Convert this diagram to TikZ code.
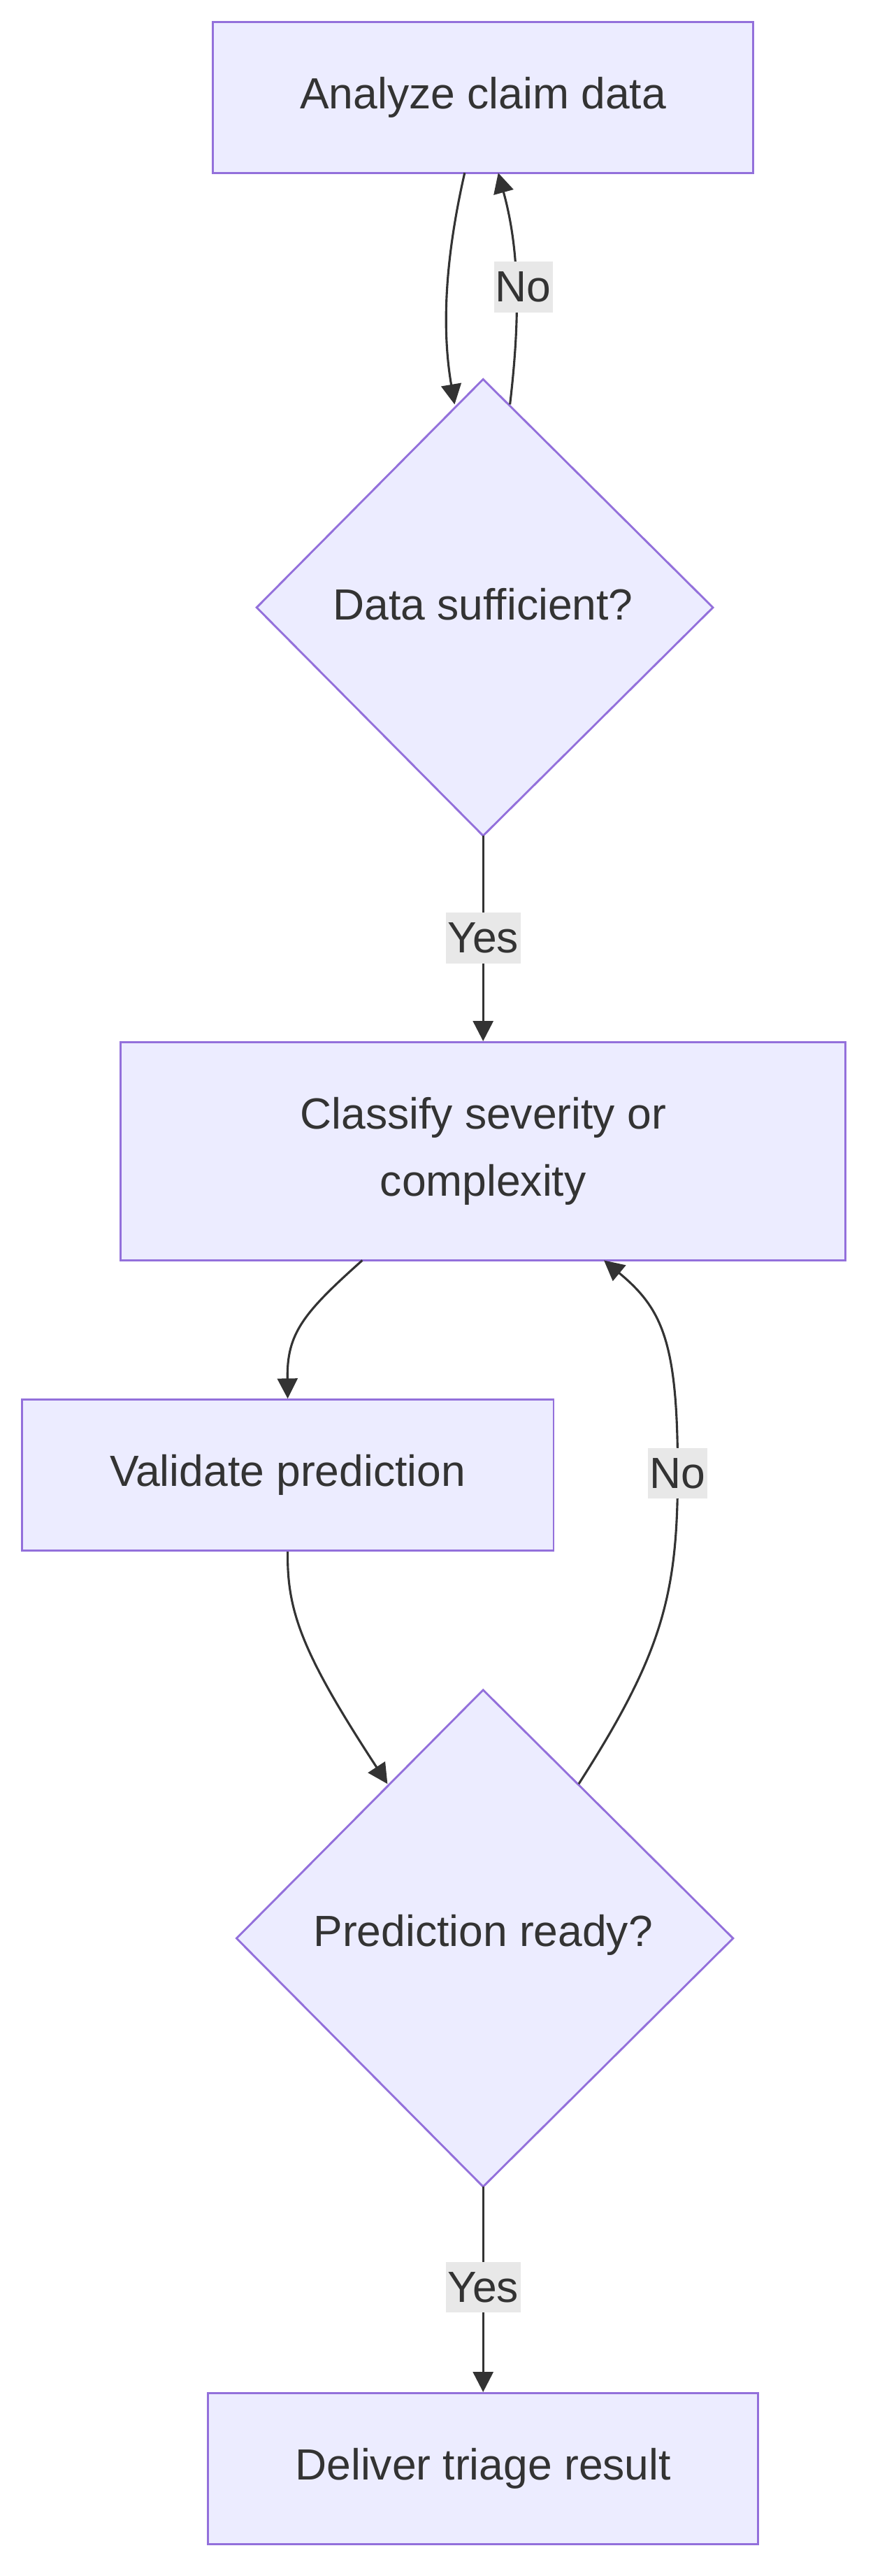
\documentclass[tikz,border=0pt]{standalone}
\usepackage{fontspec}
\setmainfont{Liberation Sans}
\usetikzlibrary{arrows.meta}
\definecolor{nfill}{HTML}{ECECFF}
\definecolor{nline}{HTML}{9370DB}
\definecolor{txt}{HTML}{333333}
\definecolor{lbg}{HTML}{E8E8E8}
\begin{document}
\begin{tikzpicture}[x=1pt,y=-1pt,
  box/.style={draw=nline,fill=nfill,line width=1.2pt,text=txt,font=\fontsize{26}{40}\selectfont,align=center,inner sep=0pt},
  lbl/.style={fill=lbg,text=txt,font=\fontsize{26}{30}\selectfont,inner xsep=1pt,inner ysep=6pt},
  edge/.style={draw=txt,line width=1.3pt,-{Triangle[length=12pt,width=12pt]}}]
\useasboundingbox (0,0) rectangle (520,1535);
\node[box,minimum width=322pt,minimum height=90pt] (a) at (288,58) {Analyze claim data};
\draw[box] (288,226) -- (425,362) -- (288,498) -- (153,362) -- cycle;
\node[text=txt,font=\fontsize{26}{30}\selectfont] (d1) at (288,360) {Data sufficient?};
\node[box,minimum width=432pt,minimum height=130pt] (b) at (288,686) {Classify severity or\\complexity};
\node[box,minimum width=317pt,minimum height=90pt] (c) at (171.5,879) {Validate prediction};
\draw[box] (288,1007) -- (437,1155) -- (288,1303) -- (141,1155) -- cycle;
\node[text=txt,font=\fontsize{26}{30}\selectfont] (d2) at (288,1153) {Prediction ready?};
\node[box,minimum width=328pt,minimum height=90pt] (e) at (288,1471) {Deliver triage result};
\coordinate (a1) at (277,103); \coordinate (d1t) at (271,241);
\coordinate (d1r) at (304,241); \coordinate (a2) at (297,103);
\draw[edge] (a1) .. controls (264,160) and (264,200) .. (d1t);
\draw[edge] (d1r) .. controls (310,190) and (310,150) .. (a2);
\node[lbl] at (312,171) {No};
\draw[edge] (288,498) -- (b.north);
\node[lbl] at (288,559) {Yes};
\coordinate (b1) at (216,751);
\draw[edge] (b1) .. controls (180,783) and (171,795) .. (c.north);
\coordinate (d2l) at (231,1063);
\draw[edge] (c.south) .. controls (171,960) and (180,985) .. (d2l);
\coordinate (d2r) at (345,1063); \coordinate (b2) at (360,751);
\draw[edge] (d2r) .. controls (395,985) and (404,950) .. (404,877) .. controls (404,800) and (395,780) .. (b2);
\node[lbl] at (404,878) {No};
\draw[edge] (288,1303) -- (e.north);
\node[lbl] at (288,1363) {Yes};
\end{tikzpicture}
\end{document}
